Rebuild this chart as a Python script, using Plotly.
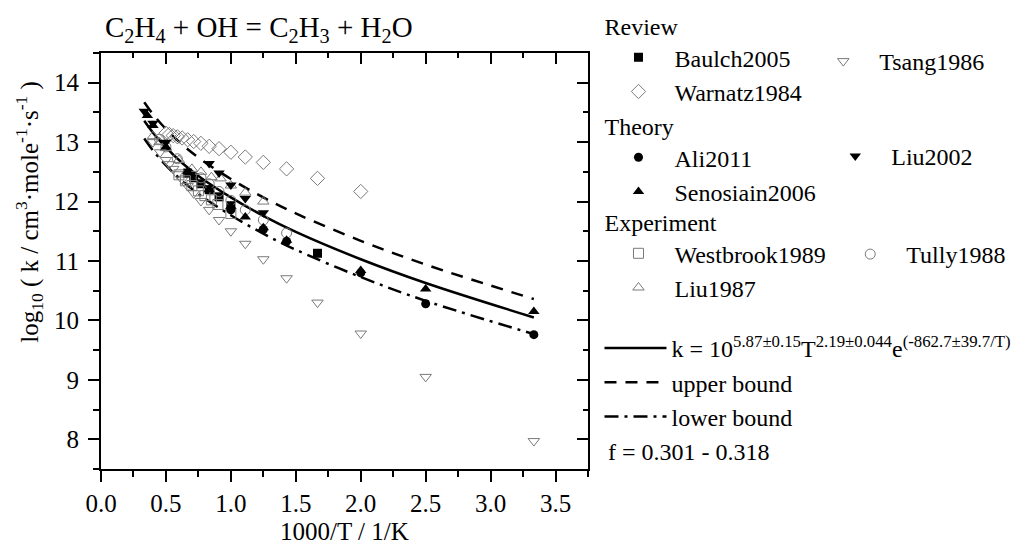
import plotly.graph_objects as go

# ---- data: log10 k versus 1000/T ----
fit_x = [0.333, 0.4, 0.5, 0.625, 0.75, 1.0, 1.25, 1.5, 2.0, 2.5, 3.333]
fit_k = [13.36, 13.16, 12.91, 12.65, 12.43, 12.07, 11.76, 11.49, 11.03, 10.63, 10.05]
upper_k = [13.67, 13.47, 13.22, 12.96, 12.74, 12.38, 12.07, 11.80, 11.34, 10.94, 10.36]
lower_k = [13.06, 12.86, 12.61, 12.35, 12.13, 11.77, 11.46, 11.19, 10.73, 10.33, 9.77]

baulch_x = [1.667, 1.0, 0.909, 0.833, 0.769, 0.714, 0.667]
baulch_y = [11.13, 11.93, 12.08, 12.20, 12.30, 12.40, 12.48]

tsang_x = [3.333, 2.5, 2.0, 1.667, 1.429, 1.25, 1.111, 1.0, 0.909, 0.833, 0.769,
           0.714, 0.667, 0.625, 0.588, 0.556, 0.526, 0.5, 0.455, 0.4]
tsang_y = [7.97, 9.05, 9.78, 10.30, 10.71, 11.03, 11.29, 11.50, 11.69, 11.86, 12.01,
           12.14, 12.26, 12.37, 12.46, 12.55, 12.63, 12.70, 12.83, 13.00]

warnatz_x = [2.0, 1.667, 1.429, 1.25, 1.111, 1.0, 0.909, 0.833, 0.769, 0.714,
             0.667, 0.625, 0.588, 0.556, 0.526, 0.5]
warnatz_y = [12.17, 12.39, 12.55, 12.66, 12.75, 12.83, 12.89, 12.93, 12.98, 13.01,
             13.04, 13.07, 13.09, 13.11, 13.13, 13.15]

ali_x = [3.333, 2.5, 2.0, 1.429, 1.25, 1.0]
ali_y = [9.76, 10.28, 10.80, 11.33, 11.53, 11.86]

liu2002_x = [1.25, 1.111, 1.0, 0.909, 0.833, 0.5, 0.4, 0.333]
liu2002_y = [11.81, 12.05, 12.28, 12.48, 12.64, 13.00, 13.32, 13.52]

senosiain_x = [3.333, 2.5, 2.0, 1.429, 1.25, 1.111, 1.0, 0.833, 0.667, 0.5, 0.4, 0.357]
senosiain_y = [10.15, 10.53, 10.84, 11.35, 11.56, 11.74, 11.92, 12.20, 12.50, 12.92, 13.28, 13.45]

westbrook_x = [1.0, 0.9, 0.85, 0.8, 0.75, 0.7, 0.65, 0.6]
westbrook_y = [11.80, 11.95, 12.03, 12.10, 12.18, 12.27, 12.35, 12.45]

tully_x = [1.429, 1.25, 1.111, 1.0, 0.909, 0.833, 0.77, 0.588, 0.5, 0.45]
tully_y = [11.47, 11.69, 11.86, 12.02, 12.17, 12.30, 12.40, 12.72, 12.92, 13.05]

liu1987_x = [1.25, 1.111, 1.0, 0.92, 0.85, 0.77, 0.7, 0.6, 0.5, 0.45, 0.4]
liu1987_y = [12.00, 12.15, 12.27, 12.39, 12.41, 12.50, 12.55, 12.70, 12.90, 13.00, 13.10]

FONT = "Liberation Serif"
GRAY = "#7a7a7a"

fig = go.Figure()


def pts(x, y, name, symbol, legend, filled, size=10, rank=1000):
    if filled:
        marker = dict(symbol=symbol, size=size, color="black", line=dict(width=0))
    else:
        marker = dict(symbol=symbol, size=size, color=GRAY, line=dict(width=1, color=GRAY))
    fig.add_trace(go.Scatter(x=x, y=y, mode="markers", name=name, marker=marker,
                             legend=legend, legendrank=rank))


# fit and bounds
fig.add_trace(go.Scatter(x=fit_x, y=fit_k, mode="lines", line_shape="spline",
                         line=dict(color="black", width=2.5),
                         name="k = 10<sup>5.87±0.15</sup>T<sup>2.19±0.044</sup>e<sup>(-862.7±39.7/T)</sup>",
                         legend="legend7"))
fig.add_trace(go.Scatter(x=fit_x, y=upper_k, mode="lines", line_shape="spline",
                         line=dict(color="black", width=2.5, dash="12px,9px"),
                         name="upper bound", legend="legend7"))
fig.add_trace(go.Scatter(x=fit_x, y=lower_k, mode="lines", line_shape="spline",
                         line=dict(color="black", width=2.5, dash="14px,6px,3px,6px"),
                         name="lower bound", legend="legend7"))

# review
pts(tsang_x, tsang_y, "Tsang1986", "triangle-down-open", "legend2", False)
pts(warnatz_x, warnatz_y, "Warnatz1984", "diamond-open", "legend", False, 11, rank=2)
pts(baulch_x, baulch_y, "Baulch2005", "square", "legend", True, 9, rank=1)
# experiment
pts(westbrook_x, westbrook_y, "Westbrook1989", "square-open", "legend5", False, rank=1)
pts(liu1987_x, liu1987_y, "Liu1987", "triangle-up-open", "legend5", False, rank=2)
pts(tully_x, tully_y, "Tully1988", "circle-open", "legend6", False)
# theory
pts(ali_x, ali_y, "Ali2011", "circle", "legend3", True, 9, rank=1)
pts(senosiain_x, senosiain_y, "Senosiain2006", "triangle-up", "legend3", True, 10, rank=2)
pts(liu2002_x, liu2002_y, "Liu2002", "triangle-down", "legend4", True, 10)

# carrier for the mirrored (top/right) axes
fig.add_trace(go.Scatter(x=[], y=[], xaxis="x2", yaxis="y2", showlegend=False))

L, T, PW, PH = 101, 53.3, 487.5, 416.0
W, H = 1035, 551


def px(xp):
    return (xp - L) / PW


def py(yp):
    return (T + PH - yp) / PH


def cy(yp):
    return 1 - yp / H


legend_base = dict(font=dict(family=FONT, size=24, color="black"),
                   bgcolor="rgba(0,0,0,0)", borderwidth=0, itemwidth=62,
                   xanchor="left", yanchor="top", yref="container", tracegroupgap=0,
                   traceorder="normal", title=dict(font=dict(family=FONT, size=24)))

axis_font = dict(family=FONT, size=25, color="black")
common_axis = dict(showline=True, linecolor="black", linewidth=2, showgrid=False,
                   zeroline=False, tickcolor="black", tickwidth=2)

fig.update_layout(
    width=W, height=H,
    margin=dict(l=L, r=W - L - PW, t=T, b=H - T - PH, autoexpand=False),
    paper_bgcolor="white", plot_bgcolor="white",
    font=dict(family=FONT, size=24, color="black"),
    title=dict(text="C<sub>2</sub>H<sub>4</sub> + OH = C<sub>2</sub>H<sub>3</sub> + H<sub>2</sub>O",
               x=px(105), xref="paper", xanchor="left",
               y=1 - 27 / H, yref="container", yanchor="middle",
               font=dict(family=FONT, size=29, color="black")),
    xaxis=dict(range=[0, 3.75], dtick=0.5, tick0=0, tickformat=".1f",
               ticks="outside", ticklen=11, tickfont=axis_font,
               minor=dict(ticks="outside", ticklen=6, dtick=0.25, tick0=0,
                          tickcolor="black", tickwidth=2),
               **common_axis),
    yaxis=dict(range=[7.5, 14.5], dtick=1, tick0=8, ticks="outside", ticklen=11,
               tickfont=axis_font, ticklabelstandoff=4,
               minor=dict(ticks="outside", ticklen=6, dtick=0.5, tick0=7.5,
                          tickcolor="black", tickwidth=2),
               **common_axis),
    xaxis2=dict(overlaying="x", matches="x", side="top", anchor="y2",
                range=[0, 3.75], dtick=0.5, tick0=0, ticks="inside", ticklen=11,
                showticklabels=False,
                minor=dict(ticks="inside", ticklen=5, dtick=0.25, tick0=0,
                           tickcolor="black", tickwidth=2),
                **common_axis),
    yaxis2=dict(overlaying="y", matches="y", side="right", anchor="x2",
                range=[7.5, 14.5], dtick=1, tick0=8, ticks="inside", ticklen=11,
                showticklabels=False,
                minor=dict(ticks="inside", ticklen=5, dtick=0.5, tick0=7.5,
                           tickcolor="black", tickwidth=2),
                **common_axis),
    legend=dict(legend_base, x=px(603), y=cy(4), title_text="Review"),
    legend2=dict(legend_base, x=px(808), y=cy(39)),
    legend3=dict(legend_base, x=px(603), y=cy(104), title_text="Theory"),
    legend4=dict(legend_base, x=px(820), y=cy(134)),
    legend5=dict(legend_base, x=px(603), y=cy(200), title_text="Experiment"),
    legend6=dict(legend_base, x=px(835), y=cy(232)),
    legend7=dict(legend_base, x=px(600), y=cy(326)),
    showlegend=True,
)

# axis titles
fig.add_annotation(text="1000/T / 1/K", x=px(345), y=py(532), xref="paper", yref="paper",
                   xanchor="center", yanchor="middle", showarrow=False, font=axis_font)
fig.add_annotation(text="log<sub>10</sub> ( k / cm<sup>3</sup>·mole<sup>-1</sup>·s<sup>-1</sup> )",
                   x=px(29), y=py(212), xref="paper", yref="paper", textangle=-90,
                   xanchor="center", yanchor="middle", showarrow=False, font=axis_font)

fig.add_annotation(text="f = 0.301 - 0.318", x=px(607), y=py(452), xref="paper", yref="paper",
                   xanchor="left", yanchor="middle", showarrow=False,
                   font=dict(family=FONT, size=24, color="black"))

fig.write_html("out.html")
